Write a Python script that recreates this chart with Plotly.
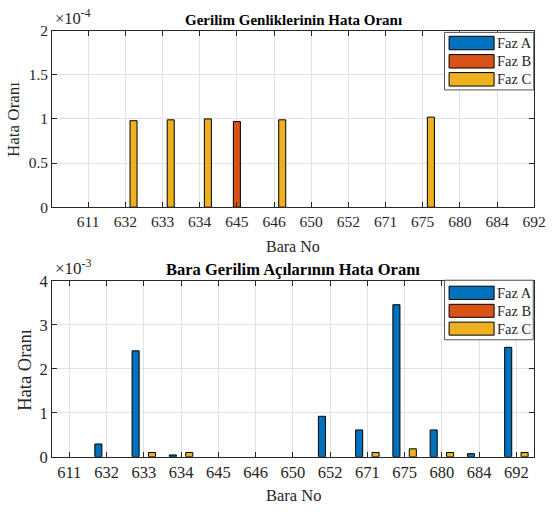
import plotly.graph_objects as go

W, H = 556, 520

buses = ["611", "632", "633", "634", "645", "646", "650", "652", "671", "675", "680", "684", "692"]
phases = ["Faz A", "Faz B", "Faz C"]
colors = ["#0072BD", "#D95319", "#EDB120"]

# Gerilim genliklerinin hata oranı (x1e-4)
amp_A = [0, 0, 0, 0, 0, 0, 0, 0, 0, 0, 0, 0, 0]
amp_B = [0, 0, 0, 0, 0.97e-4, 0, 0, 0, 0, 0, 0, 0, 0]
amp_C = [0, 0.98e-4, 0.99e-4, 1.00e-4, 0, 0.99e-4, 0, 0, 0, 1.02e-4, 0, 0, 0]

# Bara gerilim açılarının hata oranı (x1e-3)
ang_A = [0, 0.29e-3, 2.41e-3, 0.04e-3, 0, 0, 0, 0.92e-3, 0.61e-3, 3.46e-3, 0.61e-3, 0.07e-3, 2.49e-3]
ang_B = [0, 0, 0, 0, 0, 0, 0, 0, 0, 0, 0, 0, 0]
ang_C = [0, 0, 0.096e-3, 0.096e-3, 0, 0, 0, 0, 0.096e-3, 0.18e-3, 0.096e-3, 0, 0.096e-3]

amp_ticks = [0, 0.5e-4, 1e-4, 1.5e-4, 2e-4]
amp_ticktext = ["0", "0.5", "1", "1.5", "2"]
ang_ticks = [0, 1e-3, 2e-3, 3e-3, 4e-3]
ang_ticktext = ["0", "1", "2", "3", "4"]


def px(x):
    return x / W


def py(y):
    return 1 - y / H


def nz(vals):
    # zero-height bars are not drawn (no visible outline at the baseline)
    return [v if v != 0 else None for v in vals]


FONT = "Liberation Serif"
AXC = "#262626"
GRID = "#e2e2e2"

fig = go.Figure()

for vals, name, col in zip([amp_A, amp_B, amp_C], phases, colors):
    fig.add_trace(go.Bar(x=buses, y=nz(vals), name=name, marker=dict(color=col, line=dict(color="#000000", width=1)),
                         xaxis="x", yaxis="y", showlegend=False))
for vals, name, col in zip([ang_A, ang_B, ang_C], phases, colors):
    fig.add_trace(go.Bar(x=buses, y=nz(vals), name=name, marker=dict(color=col, line=dict(color="#000000", width=1)),
                         xaxis="x2", yaxis="y2", showlegend=False))

top = dict(l=53.3, r=546, t=22.5, b=205.7)
bot = dict(l=53.3, r=545.3, t=282.3, b=464.7)

common_x = dict(type="category", categoryorder="array", categoryarray=buses,
                showgrid=True, gridcolor=GRID, gridwidth=1,
                showline=True, linecolor=AXC, linewidth=1, mirror="allticks",
                ticks="inside", ticklen=5, tickcolor=AXC, zeroline=False)
common_y = dict(showgrid=True, gridcolor=GRID, gridwidth=1,
                showline=True, linecolor=AXC, linewidth=1, mirror="allticks",
                ticks="inside", ticklen=5, tickcolor=AXC, zeroline=False)

fig.update_layout(
    width=W, height=H,
    margin=dict(l=0, r=0, t=0, b=0),
    paper_bgcolor="white", plot_bgcolor="white",
    barmode="group", bargap=0.34, bargroupgap=0.14,
    hovermode=False,
    font=dict(family=FONT, color=AXC),
    xaxis=dict(common_x, domain=[px(top["l"]), px(top["r"])], anchor="y", range=[-0.97, 12],
               tickfont=dict(size=15.5, family=FONT, color=AXC)),
    yaxis=dict(common_y, domain=[py(top["b"]), py(top["t"])], anchor="x", range=[0, 2e-4],
               tickvals=amp_ticks, ticktext=amp_ticktext,
               tickfont=dict(size=15.5, family=FONT, color=AXC)),
    xaxis2=dict(common_x, domain=[px(bot["l"]), px(bot["r"])], anchor="y2", range=[-0.46, 12.46],
                tickfont=dict(size=16.5, family=FONT, color=AXC)),
    yaxis2=dict(common_y, domain=[py(bot["b"]), py(bot["t"])], anchor="x2", range=[0, 4e-3],
                tickvals=ang_ticks, ticktext=ang_ticktext,
                tickfont=dict(size=16.5, family=FONT, color=AXC)),
)

ann = []
# titles
ann.append(dict(x=px(299.5), y=py(11.5), text="<b>Gerilim Genliklerinin Hata Oranı</b>",
                font=dict(size=15, family=FONT, color="#000000")))
ann.append(dict(x=px(299), y=py(270), text="<b>Bara Gerilim Açılarının Hata Oranı</b>",
                font=dict(size=16.5, family=FONT, color="#000000")))
# axis titles
ann.append(dict(x=px(299.3), y=py(246.5), text="Bara No", font=dict(size=16, family=FONT, color=AXC)))
ann.append(dict(x=px(299.5), y=py(505), text="Bara No", font=dict(size=16.5, family=FONT, color=AXC)))
ann.append(dict(x=px(14.5), y=py(115), text="Hata Oranı", textangle=-90, font=dict(size=17, family=FONT, color=AXC)))
ann.append(dict(x=px(26), y=py(374), text="Hata Oranı", textangle=-90, font=dict(size=18.5, family=FONT, color=AXC)))
# exponent labels
ann.append(dict(x=px(54), y=py(9), text="×10<sup>-4</sup>", xanchor="left",
                font=dict(size=16.5, family=FONT, color=AXC)))
ann.append(dict(x=px(54), y=py(268), text="×10<sup>-3</sup>", xanchor="left",
                font=dict(size=17, family=FONT, color=AXC)))

shapes = []


def legend(box, rows, fsize):
    x0, y0, x1, y1 = box
    shapes.append(dict(type="rect", xref="paper", yref="paper", x0=px(x0), x1=px(x1), y0=py(y1), y1=py(y0),
                       fillcolor="white", line=dict(color="#555555", width=1), layer="above"))
    for (ry0, ry1), name, col in zip(rows, phases, colors):
        shapes.append(dict(type="rect", xref="paper", yref="paper", x0=px(459), x1=px(505), y0=py(ry1), y1=py(ry0),
                           fillcolor=col, line=dict(color="#000000", width=1), layer="above"))
        ann.append(dict(x=px(506), y=py((ry0 + ry1) / 2), text=name, xanchor="left",
                        font=dict(size=fsize, family=FONT, color=AXC)))


legend((454.3, 24.3, 545.5, 84), [(28.3, 42.3), (47.3, 61.3), (66, 80)], 14.5)
legend((454.3, 281.5, 545, 343.3), [(287.7, 301.5), (306.5, 320), (325, 338.5)], 14.5)

for a in ann:
    a.setdefault("xref", "paper")
    a.setdefault("yref", "paper")
    a.setdefault("showarrow", False)
    a.setdefault("xanchor", "center")
    a.setdefault("yanchor", "middle")

fig.update_layout(annotations=ann, shapes=shapes)

fig.write_html("out.html", config={"displayModeBar": False},
               post_script="document.body.style.margin='0';document.body.style.overflow='hidden';")
